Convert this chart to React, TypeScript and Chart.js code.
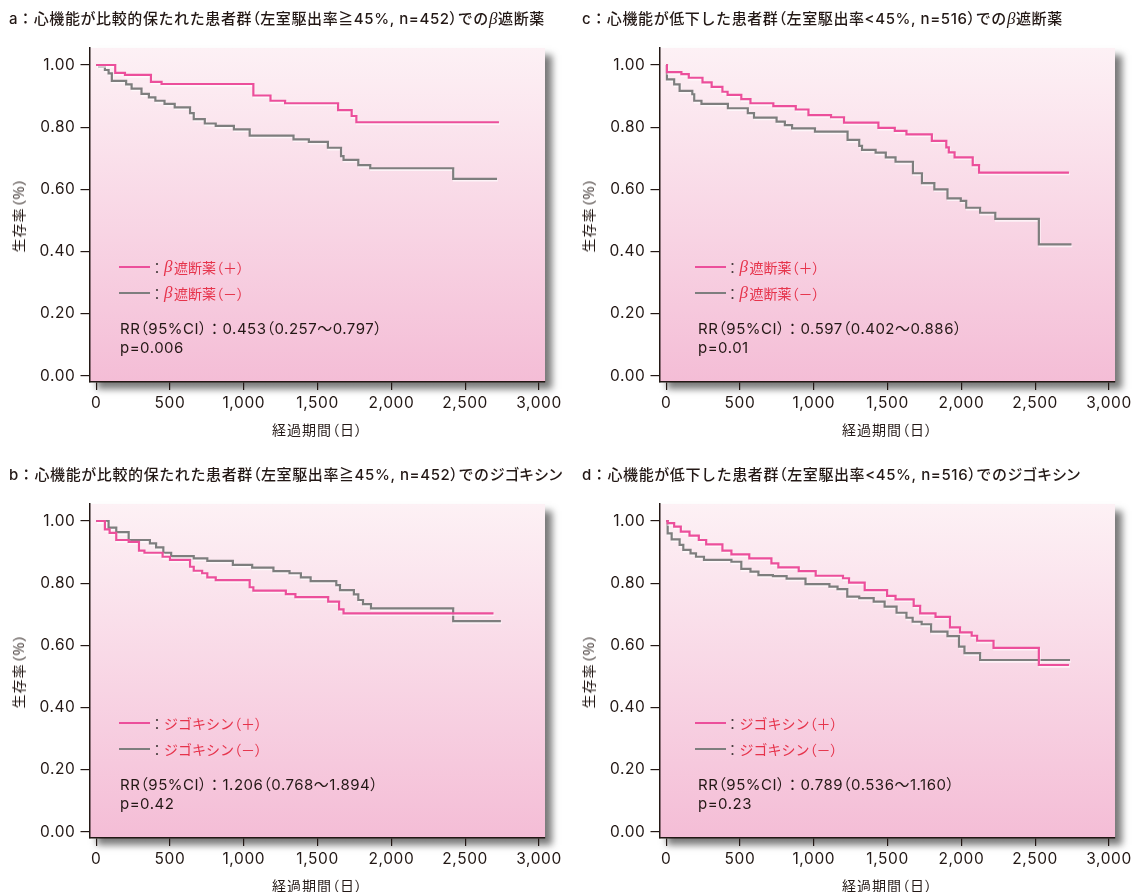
import React, { useEffect, useRef } from 'react';
import { Chart, registerables } from 'chart.js';

Chart.register(...registerables);

// ---------- axis ticks & titles ----------
const xTickValues = [0, 500, 1000, 1500, 2000, 2500, 3000];
const xTickLabels = ['0', '500', '1,000', '1,500', '2,000', '2,500', '3,000'];
const yTickValues = [0, 0.2, 0.4, 0.6, 0.8, 1.0];
const yTickLabels = ['0.00', '0.20', '0.40', '0.60', '0.80', '1.00'];
const xAxisTitle = '経過期間（日）';
const yAxisTitle = '生存率（%）';

// ---------- a: preserved EF, beta blocker ----------
const aPlusDays = [0, 129, 195, 371, 443, 1065, 1181, 1280, 1639, 1731, 1763, 2729];
const aPlusSurv = [1.0, 0.975, 0.968, 0.946, 0.939, 0.902, 0.885, 0.877, 0.855, 0.836, 0.816, 0.816];
const aMinusDays = [0, 20, 59, 84, 106, 203, 240, 307, 357, 401, 463, 532, 636, 661, 736, 810, 933, 1040, 1337, 1441, 1570, 1659, 1676, 1776, 1857, 2419, 2716];
const aMinusSurv = [1.0, 0.995, 0.984, 0.973, 0.949, 0.938, 0.924, 0.907, 0.896, 0.885, 0.875, 0.864, 0.845, 0.826, 0.812, 0.804, 0.793, 0.773, 0.761, 0.753, 0.734, 0.707, 0.695, 0.678, 0.668, 0.634, 0.634];

// ---------- c: reduced EF, beta blocker ----------
const cPlusDays = [0, 5, 103, 153, 246, 308, 381, 416, 509, 571, 726, 878, 964, 1117, 1205, 1438, 1549, 1628, 1800, 1898, 1915, 1954, 2077, 2120, 2729];
const cPlusSurv = [1.0, 0.977, 0.971, 0.959, 0.944, 0.93, 0.914, 0.904, 0.89, 0.877, 0.868, 0.857, 0.839, 0.832, 0.815, 0.798, 0.788, 0.777, 0.756, 0.735, 0.719, 0.703, 0.678, 0.654, 0.654];
const cMinusDays = [0, 5, 54, 91, 177, 190, 239, 418, 553, 595, 748, 804, 853, 1008, 1229, 1308, 1327, 1419, 1488, 1554, 1672, 1733, 1817, 1906, 1996, 2033, 2127, 2230, 2525, 2746];
const cMinusSurv = [1.0, 0.954, 0.938, 0.917, 0.906, 0.885, 0.875, 0.861, 0.845, 0.831, 0.818, 0.807, 0.796, 0.786, 0.759, 0.74, 0.727, 0.718, 0.703, 0.689, 0.652, 0.62, 0.6, 0.571, 0.563, 0.541, 0.525, 0.505, 0.423, 0.423];

// ---------- b: preserved EF, digoxin ----------
const bPlusDays = [0, 59, 91, 136, 220, 290, 327, 450, 500, 636, 661, 718, 753, 810, 1040, 1065, 1285, 1350, 1572, 1646, 1676, 2692];
const bPlusSurv = [1.0, 0.973, 0.962, 0.939, 0.933, 0.905, 0.898, 0.885, 0.875, 0.853, 0.84, 0.832, 0.819, 0.81, 0.787, 0.776, 0.765, 0.755, 0.741, 0.716, 0.703, 0.703];
const bMinusDays = [0, 84, 136, 220, 364, 406, 455, 508, 661, 753, 926, 1057, 1201, 1310, 1387, 1453, 1627, 1652, 1746, 1776, 1808, 1862, 2419, 2742];
const bMinusSurv = [1.0, 0.979, 0.964, 0.939, 0.928, 0.915, 0.898, 0.887, 0.88, 0.872, 0.859, 0.85, 0.839, 0.832, 0.819, 0.807, 0.794, 0.778, 0.764, 0.746, 0.733, 0.719, 0.678, 0.678];

// ---------- d: reduced EF, digoxin ----------
const dPlusDays = [0, 10, 54, 99, 158, 221, 271, 381, 442, 563, 713, 760, 898, 1013, 1198, 1239, 1345, 1497, 1554, 1677, 1721, 1825, 1923, 1991, 2070, 2107, 2218, 2525, 2729];
const dPlusSurv = [1.0, 0.993, 0.982, 0.966, 0.953, 0.939, 0.925, 0.905, 0.893, 0.88, 0.864, 0.851, 0.839, 0.824, 0.816, 0.802, 0.778, 0.759, 0.748, 0.727, 0.703, 0.692, 0.658, 0.642, 0.631, 0.615, 0.592, 0.537, 0.537];
const dMinusDays = [0, 10, 37, 91, 116, 165, 202, 256, 442, 509, 571, 625, 723, 816, 944, 1106, 1161, 1227, 1308, 1406, 1480, 1561, 1628, 1670, 1731, 1795, 1906, 1984, 2021, 2127, 2736];
const dMinusSurv = [1.0, 0.96, 0.941, 0.923, 0.907, 0.896, 0.885, 0.875, 0.869, 0.846, 0.837, 0.826, 0.823, 0.815, 0.797, 0.789, 0.781, 0.757, 0.752, 0.741, 0.725, 0.705, 0.689, 0.676, 0.668, 0.644, 0.63, 0.596, 0.575, 0.553, 0.553];

// ---------- texts ----------
const titleA = ['a：心機能が比較的保たれた患者群（左室駆出率≧45%, n=452）での', 'β', '遮断薬'];
const titleC = ['c：心機能が低下した患者群（左室駆出率<45%, n=516）での', 'β', '遮断薬'];
const titleB = ['b：心機能が比較的保たれた患者群（左室駆出率≧45%, n=452）でのジゴキシン', '', ''];
const titleD = ['d：心機能が低下した患者群（左室駆出率<45%, n=516）でのジゴキシン', '', ''];
const betaLegend = ['β', '遮断薬（＋）', '遮断薬（－）'];
const digLegend = ['', 'ジゴキシン（＋）', 'ジゴキシン（－）'];
const statsA = ['RR（95%CI）：0.453（0.257～0.797）', 'p=0.006'];
const statsC = ['RR（95%CI）：0.597（0.402～0.886）', 'p=0.01'];
const statsB = ['RR（95%CI）：1.206（0.768～1.894）', 'p=0.42'];
const statsD = ['RR（95%CI）：0.789（0.536～1.160）', 'p=0.23'];

// ---------- styles ----------
const PINK = '#ec4f9b';
const GRAY = '#7e7e7e';
const RED = '#e6334b';
const INK = '#231815';
const NUM_FONT = 'Inter, "Liberation Sans", sans-serif';
const CJK_FONT = '"Noto Sans CJK JP", sans-serif';
const MIX_FONT = 'Inter, "Noto Sans CJK JP", sans-serif';
const GREEK_FONT = '"Liberation Serif", "DejaVu Serif", serif';

const CW = 568;
const CH = 446;

type Panel = {
  id: string;
  left: number;
  top: number;
  title: string[];
  plusDays: number[];
  plusSurv: number[];
  minusDays: number[];
  minusSurv: number[];
  legend: string[];
  stats: string[];
  legendX: number;
  statsX: number;
  titleX: number;
};

const panels: Panel[] = [
  { id: 'a', left: 0, top: 0, title: titleA, plusDays: aPlusDays, plusSurv: aPlusSurv, minusDays: aMinusDays, minusSurv: aMinusSurv, legend: betaLegend, stats: statsA, legendX: 119, statsX: 120, titleX: 9 },
  { id: 'c', left: 570, top: 0, title: titleC, plusDays: cPlusDays, plusSurv: cPlusSurv, minusDays: cMinusDays, minusSurv: cMinusSurv, legend: betaLegend, stats: statsC, legendX: 124.5, statsX: 128, titleX: 12 },
  { id: 'b', left: 0, top: 456, title: titleB, plusDays: bPlusDays, plusSurv: bPlusSurv, minusDays: bMinusDays, minusSurv: bMinusSurv, legend: digLegend, stats: statsB, legendX: 119, statsX: 120, titleX: 9 },
  { id: 'd', left: 570, top: 456, title: titleD, plusDays: dPlusDays, plusSurv: dPlusSurv, minusDays: dMinusDays, minusSurv: dMinusSurv, legend: digLegend, stats: statsD, legendX: 124.5, statsX: 128, titleX: 12 },
];

const bgPlugin = {
  id: 'panelBg',
  beforeDraw(chart: any) {
    const { ctx, chartArea } = chart;
    const { left, top, right, bottom } = chartArea;
    ctx.save();
    ctx.shadowColor = 'rgba(40,40,40,0.62)';
    ctx.shadowBlur = 7;
    ctx.shadowOffsetX = 7;
    ctx.shadowOffsetY = 7;
    const g = ctx.createLinearGradient(0, top, 0, bottom);
    g.addColorStop(0, '#fdf1f5');
    g.addColorStop(1, '#f4bdd6');
    ctx.fillStyle = g;
    ctx.fillRect(left, top, right - left, bottom - top);
    ctx.restore();
    try { (ctx as any).letterSpacing = '0.6px'; } catch (e) { /* ignore */ }
  },
  beforeDatasetsDraw(chart: any) {
    const ctx = chart.ctx;
    ctx.save();
    ctx.shadowColor = 'rgba(255,255,255,0.65)';
    ctx.shadowOffsetX = 0.8;
    ctx.shadowOffsetY = 1.6;
    ctx.shadowBlur = 0;
  },
  afterDatasetsDraw(chart: any) {
    chart.ctx.restore();
  },
};

function makeConfig(p: Panel): any {
  const toPts = (days: number[], surv: number[]) => days.map((d, i) => ({ x: d, y: surv[i] }));
  return {
    type: 'line',
    data: {
      datasets: [
        { label: '+', data: toPts(p.plusDays, p.plusSurv), borderColor: PINK, borderWidth: 2.2, stepped: 'before', pointRadius: 0, fill: false, tension: 0 },
        { label: '-', data: toPts(p.minusDays, p.minusSurv), borderColor: GRAY, borderWidth: 2.2, stepped: 'before', pointRadius: 0, fill: false, tension: 0 },
      ],
    },
    options: {
      animation: false,
      responsive: false,
      events: [],
      layout: { padding: { left: 0, top: 48, right: 23, bottom: 0 } },
      plugins: { legend: { display: false }, tooltip: { enabled: false }, title: { display: false } },
      scales: {
        x: {
          type: 'linear',
          min: -42,
          max: 3041,
          afterBuildTicks: (s: any) => { s.ticks = xTickValues.map((v) => ({ value: v })); },
          afterFit: (s: any) => { s.height = 64; },
          ticks: { callback: (_v: any, i: number) => xTickLabels[i], font: { family: NUM_FONT, size: 15.5 }, color: INK, padding: 4.5, autoSkip: false, maxRotation: 0, minRotation: 0 },
          grid: { drawOnChartArea: false, drawTicks: true, tickLength: 8, color: INK, lineWidth: 1.2 },
          border: { display: true, color: INK, width: 1.5 },
          title: { display: false },
        },
        y: {
          type: 'linear',
          min: -0.0193,
          max: 1.0547,
          afterBuildTicks: (s: any) => { s.ticks = yTickValues.map((v) => ({ value: v })); },
          afterFit: (s: any) => { s.width = 90; },
          ticks: { callback: (_v: any, i: number) => yTickLabels[i], font: { family: NUM_FONT, size: 15.5 }, color: INK, padding: 5 },
          grid: { drawOnChartArea: false, drawTicks: true, tickLength: 9.5, color: INK, lineWidth: 1.2 },
          border: { display: true, color: INK, width: 1.5 },
          title: { display: false },
        },
      },
    },
    plugins: [bgPlugin],
  };
}

// proportional metrics for full-width brackets (and optionally katakana)
const Typeset = ({ text, kana }: { text: string; kana?: boolean }) => {
  const re = kana ? /([（）]|[ァ-ヶ]+)/ : /([（）])/;
  const test = kana ? /^([（）]|[ァ-ヶ]+)$/ : /^[（）]$/;
  return (
    <>
      {text.split(re).map((s, i) =>
        s && test.test(s) ? (
          <span key={i} style={{ fontFeatureSettings: '"palt"' }}>{s}</span>
        ) : (
          <React.Fragment key={i}>{s}</React.Fragment>
        )
      )}
    </>
  );
};

function LegendRow({ y, x, color, greek, text }: { y: number; x: number; color: string; greek: string; text: string }) {
  return (
    <div style={{ position: 'absolute', left: x, top: y - 10, height: 20, display: 'flex', alignItems: 'center', whiteSpace: 'nowrap' }}>
      <div style={{ width: 31, height: 2.5, background: color }} />
      <span style={{ fontFamily: CJK_FONT, fontSize: 14, color: '#4a4040', width: 14, display: 'inline-block', lineHeight: '20px' }}>：</span>
      {greek ? (
        <span style={{ fontFamily: GREEK_FONT, fontStyle: 'italic', fontSize: 17, color: RED, marginRight: 1.5, lineHeight: '20px' }}>{greek}</span>
      ) : null}
      <span style={{ fontFamily: CJK_FONT, fontSize: 14, color: RED, lineHeight: '20px' }}>
        <Typeset text={text} />
      </span>
    </div>
  );
}

function PanelChart({ p }: { p: Panel }) {
  const ref = useRef<HTMLCanvasElement>(null);
  useEffect(() => {
    const chart = new Chart(ref.current as HTMLCanvasElement, makeConfig(p));
    return () => chart.destroy();
  }, [p]);
  return (
    <div style={{ position: 'absolute', left: p.left, top: p.top, width: CW, height: CH }}>
      <canvas ref={ref} width={CW} height={CH} style={{ position: 'absolute', left: 0, top: 0, width: CW, height: CH, display: 'block' }} />
      <div style={{ position: 'absolute', left: p.titleX, top: 9, lineHeight: '20px', whiteSpace: 'nowrap', fontFamily: MIX_FONT, fontSize: 15, fontWeight: 500, color: INK, letterSpacing: 0.6 }}>
        <Typeset text={p.title[0]} kana />
        {p.title[1] ? <span style={{ fontFamily: GREEK_FONT, fontStyle: 'italic', fontWeight: 400, fontSize: 17 }}>{p.title[1]}</span> : null}
        {p.title[2]}
      </div>
      <LegendRow y={267} x={p.legendX} color={PINK} greek={p.legend[0]} text={p.legend[1]} />
      <LegendRow y={293} x={p.legendX} color={GRAY} greek={p.legend[0]} text={p.legend[2]} />
      <div style={{ position: 'absolute', left: p.statsX, top: 320, lineHeight: '18.5px', whiteSpace: 'nowrap', fontFamily: MIX_FONT, fontSize: 15, color: INK, letterSpacing: 0.5 }}>
        <div><Typeset text={p.stats[0]} /></div>
        <div>{p.stats[1]}</div>
      </div>
      {/* axis titles */}
      <div style={{ position: 'absolute', left: 317.5, top: 429, width: 0, height: 0 }}>
        <span style={{ position: 'absolute', left: 0, top: 0, transform: 'translate(-50%, -50%)', whiteSpace: 'nowrap', fontFamily: CJK_FONT, fontSize: 14, color: INK, letterSpacing: 1, lineHeight: '18px' }}>
          <Typeset text={xAxisTitle} />
        </span>
      </div>
      <div style={{ position: 'absolute', left: 18, top: 215, width: 0, height: 0 }}>
        <span style={{ position: 'absolute', left: 0, top: 0, transform: 'translate(-50%, -50%) rotate(-90deg)', whiteSpace: 'nowrap', fontFamily: CJK_FONT, fontSize: 14, color: INK, letterSpacing: 1, lineHeight: '18px' }}>
          <Typeset text={yAxisTitle} />
        </span>
      </div>
    </div>
  );
}

export default function App() {
  return (
    <div style={{ position: 'fixed', left: 0, top: 0, width: 1136, height: 892, background: '#ffffff', overflow: 'hidden' }}>
      {panels.map((p) => (
        <PanelChart key={p.id} p={p} />
      ))}
    </div>
  );
}
